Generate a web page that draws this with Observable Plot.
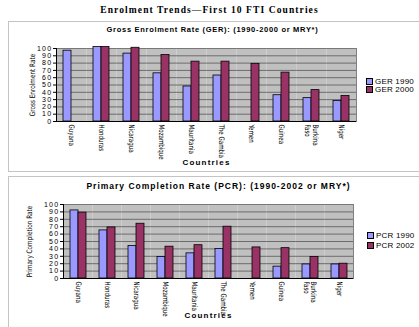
<!DOCTYPE html>
<html>
<head>
<meta charset="utf-8">
<script src="https://cdn.jsdelivr.net/npm/d3@7"></script>
<script src="https://cdn.jsdelivr.net/npm/@observablehq/plot@0.6"></script>
<style>
  body { margin: 0; background: #fff; width: 419px; height: 327px; overflow: hidden; position: relative;
         font-family: "Liberation Sans", Arial, sans-serif; color: #000; }
  .abs { position: absolute; }
  #title { left: 0; width: 419px; top: 5px; text-align: center; white-space: nowrap;
           font: bold 9.5px "Liberation Serif", "Times New Roman", serif; letter-spacing: 1.1px; }
  .panel { position: absolute; left: 8px; width: 430px; border: 1px solid #c4c4c4; }
  .ptitle { left: 0; width: 419px; text-align: center; white-space: nowrap; font-weight: bold; }
  .legend { font-size: 8px; letter-spacing: 0.2px; white-space: nowrap; }
  .legend .row { display: flex; align-items: center; }
  .legend .sw { width: 5px; height: 5px; border: 1px solid #000; margin-right: 2px; }
  svg.chart { position: absolute; left: 0; overflow: visible; }
</style>
</head>
<body>
<div id="title" class="abs">Enrolment Trends—First 10 FTI Countries</div>
<div class="panel" style="top:21px;height:149px;"></div>
<div class="panel" style="top:176px;height:160px;"></div>
<div id="t1" class="abs ptitle" style="top:25px;left:3px;font-size:7.5px;letter-spacing:0.7px;">Gross Enrolment Rate (GER): (1990-2000 or MRY*)</div>
<div id="t2" class="abs ptitle" style="top:181px;left:9px;font-size:8.5px;letter-spacing:1px;">Primary Completion Rate (PCR): (1990-2002 or MRY*)</div>
<div id="c1"></div>
<div id="c2"></div>
<script>
// Countries in chart order and their axis labels
const countries = ["Guyana", "Honduras", "Nicaragua", "Mozambique", "Mauritania",
                   "The Gambia", "Yemen", "Guinea", "Burkina Faso", "Niger"];
const countryTickLabels = ["Guyana", "Honduras", "Nicaragua", "Mozambique", "Mauritania",
                           "The Gambia", "Yemen", "Guinea", "Burkina\nFaso", "Niger"];

// Gross Enrolment Rate (null = no data)
const gerSeries = ["GER 1990", "GER 2000"];
const ger1990 = [97, 102, 93, 66, 48, 63, null, 36, 32, 28];
const ger2000 = [null, 102, 101, 91, 82, 82, 79, 67, 43, 35];

// Primary Completion Rate (null = no data)
const pcrSeries = ["PCR 1990", "PCR 2002"];
const pcr1990 = [92, 65, 44, 29, 34, 40, null, 16, 19, 19];
const pcr2002 = [89, 69, 74, 43, 45, 70, 42, 41, 29, 20];

const yTicks = [0, 10, 20, 30, 40, 50, 60, 70, 80, 90, 100];
const seriesColors = ["#9999ff", "#993366"];

const tickLabel = new Map(countries.map((c, i) => [c, countryTickLabels[i]]));

function rowsOf(names, a, b) {
  const rows = [];
  countries.forEach((c, i) => {
    if (a[i] != null) rows.push({country: c, series: names[0], value: a[i]});
    if (b[i] != null) rows.push({country: c, series: names[1], value: b[i]});
  });
  return rows;
}

const narrow = "'Liberation Sans Narrow', 'DejaVu Sans Condensed', 'Arial Narrow', sans-serif";

// squeeze rotated labels along their reading direction
function condense(sel, k) {
  sel.each(function () {
    const t = this.getAttribute("transform") || "";
    this.setAttribute("transform", t + ` scale(${k},1)`);
  });
}

function barChart(cfg) {
  const svg = Plot.plot({
    width: 419,
    height: cfg.height,
    marginTop: cfg.mt, marginBottom: cfg.mb, marginLeft: cfg.ml, marginRight: cfg.mr,
    style: {background: "transparent", fontFamily: "'Liberation Sans', Arial, sans-serif",
            fontSize: "7px", color: "#000"},
    fx: {domain: countries, padding: 0},
    x: {domain: cfg.series, paddingInner: 0, paddingOuter: 0.67, axis: null},
    y: {domain: [0, 100]},
    color: {domain: cfg.series, range: seriesColors},
    marks: [
      Plot.frame({fill: "#c0c0c0", stroke: "none"}),
      Plot.gridY(yTicks, {stroke: "#333", strokeOpacity: 1, strokeWidth: 0.6}),
      Plot.frame({anchor: "right", facetAnchor: "right", stroke: "#808080"}),
      Plot.barY(cfg.rows, {fx: "country", x: "series", y: "value", fill: "series",
                           stroke: "#000", strokeWidth: 0.8, inset: 0}),
      Plot.ruleY([0], {stroke: "#000"}),
      Plot.frame({anchor: "left", facetAnchor: "left", stroke: "#000"}),
      Plot.axisY(yTicks, {tickSize: 3, tickPadding: 1, label: cfg.yLabel, labelAnchor: "center",
                          labelOffset: cfg.ylo, labelArrow: false}),
      Plot.axisFx({anchor: "bottom", tickRotate: 90, tickSize: 0, tickPadding: 3,
                   tickFormat: d => tickLabel.get(d),
                   label: "Countries", labelAnchor: "center", labelOffset: cfg.xlo})
    ]
  });
  svg.classList.add("chart");
  svg.style.top = cfg.top + "px";
  const s = d3.select(svg);
  s.selectAll('[aria-label="y-axis tick label"] text').attr("letter-spacing", "1.3px");
  const yl = s.selectAll('[aria-label="y-axis label"] text').attr("font-family", narrow).attr("font-size", "7.5px");
  condense(yl, 0.85);
  const xt = s.selectAll('[aria-label="fx-axis tick label"] text').attr("font-family", narrow).attr("font-size", "7.5px");
  condense(xt, 0.82);
  s.selectAll('[aria-label="fx-axis label"] text').attr("font-weight", "bold").attr("font-size", "8px")
    .attr("letter-spacing", "1.2px");
  return svg;
}

function legend(names, left, top, rowHeight) {
  const div = d3.select("body").append("div").attr("class", "abs legend")
    .style("left", left + "px").style("top", top + "px");
  names.forEach((n, i) => {
    const row = div.append("div").attr("class", "row").style("height", rowHeight + "px");
    row.append("div").attr("class", "sw").style("background", seriesColors[i]);
    row.append("span").text(n);
  });
}

document.getElementById("c1").append(barChart({
  rows: rowsOf(gerSeries, ger1990, ger2000), series: gerSeries, yLabel: "Gross Enrolment Rate",
  top: 40, height: 131, mt: 8, mb: 50, ml: 55, mr: 63, ylo: 27, xlo: 43
}));
document.getElementById("c2").append(barChart({
  rows: rowsOf(pcrSeries, pcr1990, pcr2002), series: pcrSeries, yLabel: "Primary Completion Rate",
  top: 192, height: 135, mt: 12, mb: 49, ml: 58, mr: 62, ylo: 37, xlo: 39
}));
legend(gerSeries, 366, 77, 8.5);
legend(pcrSeries, 367, 230, 10);
</script>
</body>
</html>
